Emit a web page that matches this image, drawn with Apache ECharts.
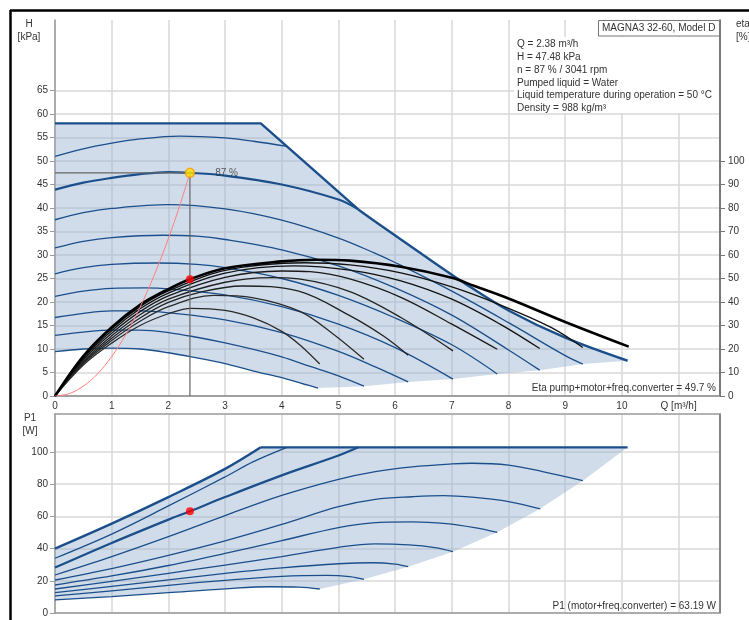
<!DOCTYPE html>
<html><head><meta charset="utf-8">
<script src="https://cdn.jsdelivr.net/npm/echarts@6/dist/echarts.min.js"></script>
<style>html,body{margin:0;padding:0;background:#fff}#c{width:749px;height:620px}</style>
</head><body><div id="c"></div>
<script>
// ---------- tick labels ----------
const qLabels = [0,1,2,3,4,5,6,7,8,9,10];
const qUnitLabel = 'Q [m³/h]';
const headLabels = [0,5,10,15,20,25,30,35,40,45,50,55,60,65];
const etaLabels = [0,10,20,30,40,50,60,70,80,90,100];
const powerLabels = [0,20,40,60,80,100];

// ---------- head curves (Q m³/h, H kPa) ----------
const headEnvelopeLimit = [[0,58],[3.63,58],[5.35,39.7]];
const headEnvelopeCurve = [[5.35,39.7],[5.64,37.2],[6.4,30.8],[7.25,23.8],[8,18.2],[9,12.4],[10.1,7.5]];
const headMinEnds = [[4.64,1.7],[5.45,2.1],[6.23,3.0],[7.02,3.6],[7.8,4.7],[8.55,5.5],[9.31,6.8],[10.1,7.5]];
const headA  = [[0,51],[0.5,52.6],[1,53.8],[1.5,54.7],[2.2,55.3],[3,54.9],[3.5,54.2],[4.09,53.1]];
const head87 = [[0,43.9],[0.5,45.4],[1,46.4],[1.5,47.2],[2,47.65],[2.38,47.48],[3,46.9],[4,45],[5,41.8],[5.35,39.7]];
const headC7 = [[0,37.5],[0.5,39],[1,39.9],[2,40.7],[3,39.8],[4,37.4],[5,33.6],[5.64,30.4],[6,28.4],[7,22.3],[8,15.6],[9,8.6],[9.31,6.8]];
const headC6 = [[0,31.5],[0.5,32.9],[1,33.7],[1.9,34.2],[2.5,34],[3,33.3],[4,31.1],[5,27.7],[6,23],[7,17.2],[8,9.8],[8.55,5.5]];
const headC5 = [[0,26],[0.5,27.3],[1,28],[1.8,28.3],[2.5,28],[3,27.3],[4,25],[5,21.4],[6,16.6],[7,10.9],[7.8,4.7]];
const headC4 = [[0,21.2],[0.5,22.3],[1,22.9],[1.6,23],[2,22.8],[3,21.5],[4,19],[5,15.3],[6,10.3],[7.02,3.6]];
const headC3 = [[0,16.7],[0.5,17.6],[1,18.1],[1.5,18.1],[2,17.7],[3,16.2],[4,13.5],[5,9.5],[5.65,6.2],[6.23,3.0]];
const headC2 = [[0,12.9],[0.5,13.6],[1,14],[1.5,14],[2,13.5],[2.5,12.5],[3,11.3],[3.5,9.9],[4,8.3],[4.5,6.3],[5,4.3],[5.45,2.1]];
const headC1 = [[0,9.45],[0.5,10],[1,10.2],[1.5,10],[2,9.2],[2.5,8.1],[3,6.9],[3.5,5.3],[4,3.9],[4.4,2.5],[4.64,1.7]];
const systemCurve = [[0,0],[0.25,0.5],[0.5,2.1],[0.75,4.7],[1,8.4],[1.25,13.1],[1.5,18.9],[1.75,25.7],[2,33.5],[2.2,40.5],[2.38,47.48]];
const dutyPoint = [2.38, 47.48];
const dutyEta = [2.38, 49.7];
const dutyPower = [2.38, 63.19];

// ---------- efficiency curves (Q, eta %) ----------
const etaE1 = [[0,0],[0.5,13.2],[1,22.5],[1.5,30],[2,35],[2.4,37.3],[3,36.4],[3.5,33.2],[4,27.5],[4.32,21.7],[4.67,13.6]];
const etaE2 = [[0,0],[0.5,13.8],[1,23.6],[1.5,31.8],[2,38],[2.8,42.8],[3.5,41.8],[4.32,36],[4.9,26.5],[5.45,15.6]];
const etaE3 = [[0,0],[0.5,14.3],[1,24.6],[1.5,33.2],[2,39.8],[2.6,44.4],[3.3,46.8],[4.3,44.6],[5.2,34.2],[5.8,25.4],[6.23,17.3]];
const etaE4 = [[0,0],[0.5,14.8],[1,25.6],[1.5,34.6],[2,41.2],[3,48.4],[3.8,50.4],[4.3,49.8],[5.2,44.4],[6.1,33.4],[7.02,19.2]];
const etaE5 = [[0,0],[0.5,15.4],[1,26.7],[1.5,35.9],[2,42.6],[3,50.5],[4,53.2],[4.5,52.9],[5.2,49.8],[6.1,42],[7,30.6],[7.8,19.9]];
const etaE6 = [[0,0],[0.5,16],[1,27.8],[1.5,37.1],[2,43.8],[3,52.3],[4.2,55.4],[5.2,53.6],[6.1,49],[7,41.2],[7.85,30.6],[8.55,20.2]];
const etaE7 = [[0,0],[0.5,16.5],[1,28.6],[1.5,38],[2,44.7],[3,53.5],[4.4,56.7],[5.2,55.8],[6.1,52.4],[7,46.4],[7.85,38.8],[8.75,29.2],[9.31,20.6]];
const etaE8 = [[0,0],[0.5,17],[1,29.3],[1.5,38.8],[2,45.5],[2.38,49.7],[3,54.4],[4,57.3],[4.6,58],[5.2,57.6],[6.1,55],[7,50.3],[7.4,46.8],[8,41.5],[9,31.5],[10.12,21]];

// ---------- power curves (Q, P1 W) ----------
const powerEnvelopeRise = [[0,40],[1,55.5],[2,72],[3,89.5],[3.63,102.9]];
const powerEnvelopeFlat = [[3.63,102.9],[10.1,102.9]];
const powerMinEnds = [[4.67,14.9],[5.45,20.9],[6.23,28.8],[7.02,38.1],[7.8,50.1],[8.55,64.6],[9.31,82.2],[10.1,102.9]];
const powerA  = [[0,34],[1,49],[2,66.5],[3,84.5],[3.5,94],[4.09,102.9]];
const power87 = [[0,28.2],[1,43.5],[2,58],[2.38,63.19],[3,72],[4,85.5],[5,97.8],[5.35,102.9]];
const powerP7 = [[0,23.6],[1,35],[2,47.4],[3,60.5],[4,73],[5,83],[5.65,87.8],[6.3,90.8],[7,92.6],[7.35,93],[8,91.9],[8.6,87.8],[9.31,82.2]];
const powerP6 = [[0,20.5],[1,27.6],[2,35.8],[3,44.8],[4,55],[5,66],[5.65,70.6],[6.3,72.2],[6.85,72.9],[7.4,71.8],[8,69.2],[8.56,64.6]];
const powerP5 = [[0,17.4],[1,23],[2,29.5],[3,37],[4,45],[5,53],[5.6,56],[6.3,56.6],[6.9,55.5],[7.4,53],[7.8,50.1]];
const powerP4 = [[0,14.9],[1,19.6],[2,24.6],[3,29.8],[4,35],[5,40.8],[5.65,42.9],[6.24,42.3],[6.7,40.6],[7.02,38.1]];
const powerP3 = [[0,12.6],[1,16.5],[2,20.6],[3,24.6],[4,28],[5,30.6],[5.6,31.2],[6,30.4],[6.23,28.8]];
const powerP2 = [[0,10.6],[1,13.8],[2,17.2],[3,20.3],[4,22.8],[4.8,23.4],[5.2,22.6],[5.45,20.9]];
const powerP1 = [[0,8.1],[1,10.2],[2,12.6],[3,15],[3.8,16.3],[4.3,16.1],[4.67,14.9]];

// ---------- texts ----------
const titleText = 'MAGNA3 32-60, Model D';
const infoLines = ['Q = 2.38 m³/h','H = 47.48 kPa','n = 87 % / 3041 rpm','Pumped liquid = Water','Liquid temperature during operation = 50 °C','Density = 988 kg/m³'];
const etaResult = 'Eta pump+motor+freq.converter = 49.7 %';
const powerResult = 'P1 (motor+freq.converter) = 63.19 W';
const speedLabel = '87 %';

// ---------- styling ----------
const FONT = '"Liberation Sans", Arial, sans-serif';
const BLUE = '#1b4f8b';
const FILL = 'rgba(150,178,206,0.45)';
const GRIDC = '#d8d8d8';
const TXT = '#333';

function line(data, xi, yi, color, width, z, smooth) {
  return {type:'line', data:data, xAxisIndex:xi, yAxisIndex:yi, showSymbol:false, symbol:'none',
    smooth: smooth === undefined ? 0.35 : smooth, lineStyle:{color:color, width:width}, z:z, silent:true, clip:true};
}
function poly(points, xi, yi) {
  return {type:'custom', xAxisIndex:xi, yAxisIndex:yi, silent:true, z:1, data:[points[0]],
    renderItem: function(params, api){
      return {type:'polygon', shape:{points: points.map(function(p){return api.coord(p);})}, style:{fill:FILL}};
    }};
}

const headFill = headEnvelopeLimit.concat(headEnvelopeCurve.slice(1), headMinEnds.slice().reverse().slice(1), headC1.slice().reverse().slice(1));
const powerFill = powerEnvelopeRise.concat(powerEnvelopeFlat.slice(1), powerMinEnds.slice().reverse().slice(1), powerP1.slice().reverse().slice(1));

const series = [
  poly(headFill, 0, 0),
  line(headEnvelopeLimit, 0, 0, BLUE, 2.4, 3, false),
  line(headEnvelopeCurve, 0, 0, BLUE, 2.4, 3),
  line(headA, 0, 0, BLUE, 1.3, 3),
  line(head87, 0, 0, BLUE, 2.2, 3),
  line(headC7, 0, 0, BLUE, 1.3, 3),
  line(headC6, 0, 0, BLUE, 1.3, 3),
  line(headC5, 0, 0, BLUE, 1.3, 3),
  line(headC4, 0, 0, BLUE, 1.3, 3),
  line(headC3, 0, 0, BLUE, 1.3, 3),
  line(headC2, 0, 0, BLUE, 1.3, 3),
  line(headC1, 0, 0, BLUE, 1.3, 3),
  line(etaE1, 0, 1, '#2a2a2a', 1.3, 4),
  line(etaE2, 0, 1, '#2a2a2a', 1.3, 4),
  line(etaE3, 0, 1, '#222', 1.3, 4),
  line(etaE4, 0, 1, '#222', 1.3, 4),
  line(etaE5, 0, 1, '#1a1a1a', 1.3, 4),
  line(etaE6, 0, 1, '#111', 1.3, 4),
  line(etaE7, 0, 1, '#111', 1.3, 4),
  line(etaE8, 0, 1, '#000', 2.6, 4),
  line(systemCurve, 0, 0, '#ff7f7f', 1, 5),
  line([[0, dutyPoint[1]], dutyPoint], 0, 0, '#666', 1.2, 5, false),
  line([dutyPoint, [dutyPoint[0], 0]], 0, 0, '#666', 1.2, 5, false),
  {type:'scatter', xAxisIndex:0, yAxisIndex:0, data:[dutyPoint], symbolSize:9, z:7, silent:true,
    itemStyle:{color:'#ffe600', borderColor:'#ff9900', borderWidth:1.5},
    label:{show:true, position:'right', distance:20, formatter:speedLabel, color:TXT, fontSize:10, fontFamily:FONT}},
  {type:'scatter', xAxisIndex:0, yAxisIndex:1, data:[dutyEta], symbolSize:8, z:7, silent:true, itemStyle:{color:'#ff0000'}},
  poly(powerFill, 1, 2),
  line(powerEnvelopeRise, 1, 2, BLUE, 2.4, 3),
  line(powerEnvelopeFlat, 1, 2, BLUE, 2.4, 3, false),
  line(powerA, 1, 2, BLUE, 1.3, 3),
  line(power87, 1, 2, BLUE, 2.2, 3),
  line(powerP7, 1, 2, BLUE, 1.3, 3),
  line(powerP6, 1, 2, BLUE, 1.3, 3),
  line(powerP5, 1, 2, BLUE, 1.3, 3),
  line(powerP4, 1, 2, BLUE, 1.3, 3),
  line(powerP3, 1, 2, BLUE, 1.3, 3),
  line(powerP2, 1, 2, BLUE, 1.3, 3),
  line(powerP1, 1, 2, BLUE, 1.3, 3),
  {type:'scatter', xAxisIndex:1, yAxisIndex:2, data:[dutyPower], symbolSize:8, z:7, silent:true, itemStyle:{color:'#ff0000'}}
];

const xCommon = {type:'value', min:0, max:11.73, interval:1};
const labelStyle = {color:TXT, fontSize:10, fontFamily:FONT};

const option = {
  animation:false,
  backgroundColor:'#fff',
  textStyle:{fontFamily:FONT},
  grid:[
    {left:55, right:29, top:20, height:376, containLabel:false, outerBoundsMode:'none'},
    {left:55, right:29, top:414, height:199, containLabel:false, outerBoundsMode:'none'}
  ],
  xAxis:[
    Object.assign({gridIndex:0, position:'bottom',
      axisLine:{show:true, onZero:false, lineStyle:{color:'#8a8a8a', width:1.5}},
      axisTick:{show:false},
      axisLabel:Object.assign({show:true, margin:5, showMaxLabel:true, formatter:function(v){
        if (qLabels.indexOf(v) >= 0) return String(v);
        if (v === 11) return qUnitLabel;
        return '';
      }}, labelStyle),
      splitLine:{show:true, lineStyle:{color:GRIDC, width:1.5}}}, xCommon),
    Object.assign({gridIndex:1, position:'top',
      axisLine:{show:true, onZero:false, lineStyle:{color:'#9a9a9a', width:1.5}},
      axisTick:{show:false}, axisLabel:{show:false},
      splitLine:{show:true, lineStyle:{color:GRIDC, width:1.5}}}, xCommon),
    Object.assign({gridIndex:1, position:'bottom',
      axisLine:{show:true, onZero:false, lineStyle:{color:'#9a9a9a', width:1.5}},
      axisTick:{show:false}, axisLabel:{show:false}, splitLine:{show:false}}, xCommon)
  ],
  yAxis:[
    {gridIndex:0, type:'value', min:0, max:80, interval:5, position:'left',
      axisLine:{show:true, onZero:false, lineStyle:{color:'#9a9a9a', width:1.5}},
      axisTick:{show:true, length:5, customValues:headLabels, lineStyle:{color:'#9a9a9a'}},
      axisLabel:Object.assign({margin:7, formatter:function(v){ return headLabels.indexOf(v) >= 0 ? String(v) : ''; }}, labelStyle),
      splitLine:{show:true, lineStyle:{color:GRIDC, width:1.5}}},
    {gridIndex:0, type:'value', min:0, max:160, interval:10, position:'right',
      axisLine:{show:true, onZero:false, lineStyle:{color:'#555', width:1.5}},
      axisTick:{show:true, length:5, customValues:etaLabels, lineStyle:{color:'#777'}},
      axisLabel:Object.assign({margin:8, formatter:function(v){ return etaLabels.indexOf(v) >= 0 ? String(v) : ''; }}, labelStyle),
      splitLine:{show:false}},
    {gridIndex:1, type:'value', min:0, max:123.6, interval:20, position:'left',
      axisLine:{show:true, onZero:false, lineStyle:{color:'#9a9a9a', width:1.5}},
      axisTick:{show:true, length:5, customValues:powerLabels, lineStyle:{color:'#9a9a9a'}},
      axisLabel:Object.assign({margin:7, formatter:function(v){ return powerLabels.indexOf(v) >= 0 ? String(v) : ''; }}, labelStyle),
      splitLine:{show:true, lineStyle:{color:GRIDC, width:1.5}}},
    {gridIndex:1, type:'value', min:0, max:123.6, position:'right',
      axisLine:{show:true, onZero:false, lineStyle:{color:'#666', width:1.5}},
      axisTick:{show:false}, axisLabel:{show:false}, splitLine:{show:false}}
  ],
  series:series,
  graphic:[
    {type:'line', shape:{x1:10, y1:10.5, x2:749, y2:10.5}, style:{stroke:'#000', lineWidth:2.5}, z:100},
    {type:'line', shape:{x1:10.5, y1:10, x2:10.5, y2:620}, style:{stroke:'#000', lineWidth:2.5}, z:100},
    {type:'text', x:29, y:24, style:{text:'H', fill:TXT, font:'10px '+FONT, align:'center', verticalAlign:'middle'}},
    {type:'text', x:29, y:37, style:{text:'[kPa]', fill:TXT, font:'10px '+FONT, align:'center', verticalAlign:'middle'}},
    {type:'text', x:736, y:24, style:{text:'eta', fill:TXT, font:'10px '+FONT, align:'left', verticalAlign:'middle'}},
    {type:'text', x:736, y:37, style:{text:'[%]', fill:TXT, font:'10px '+FONT, align:'left', verticalAlign:'middle'}},
    {type:'text', x:30, y:418, style:{text:'P1', fill:TXT, font:'10px '+FONT, align:'center', verticalAlign:'middle'}},
    {type:'text', x:30, y:431, style:{text:'[W]', fill:TXT, font:'10px '+FONT, align:'center', verticalAlign:'middle'}},
    {type:'rect', shape:{x:514, y:37, width:205, height:76}, style:{fill:'#fff'}, z:50},
    {type:'rect', shape:{x:598.5, y:20.5, width:121, height:15.5}, style:{fill:'#fff', stroke:'#777', lineWidth:1}, z:51},
    {type:'text', x:602, y:28.5, z:52, style:{text:titleText, fill:TXT, font:'10px '+FONT, align:'left', verticalAlign:'middle'}},
    {type:'text', x:517, y:38.3, z:52, style:{text:infoLines.join('\n'), fill:TXT, font:'10px '+FONT, lineHeight:12.7, align:'left', verticalAlign:'top'}},
    {type:'text', x:716, y:388, z:52, style:{text:etaResult, fill:TXT, font:'10px '+FONT, align:'right', verticalAlign:'middle'}},
    {type:'text', x:716, y:606, z:52, style:{text:powerResult, fill:TXT, font:'10px '+FONT, align:'right', verticalAlign:'middle'}}
  ]
};

const chart = echarts.init(document.getElementById('c'), null, {renderer:'canvas'});
chart.setOption(option);
</script>
</body></html>
